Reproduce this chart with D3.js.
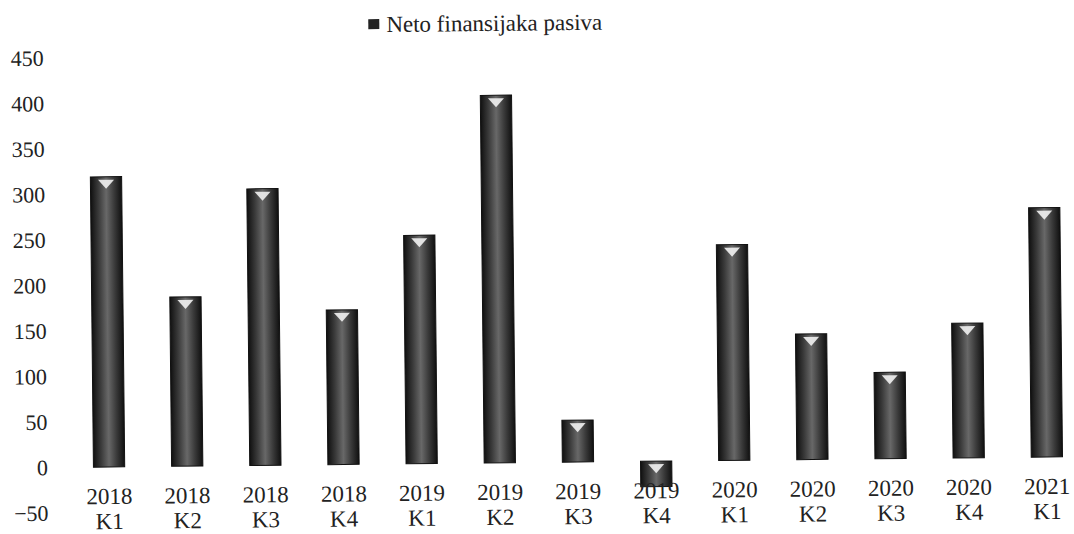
<!DOCTYPE html>
<html>
<head>
<meta charset="utf-8">
<script src="https://cdn.jsdelivr.net/npm/d3@7"></script>
<style>
  body { margin: 0; background: #fff; }
  text { font-family: "Liberation Serif", "DejaVu Serif", "Times New Roman", serif; fill: #222; }
</style>
</head>
<body>
<div id="chart"></div>
<script>
// data
var years = ["2018","2018","2018","2018","2019","2019","2019","2019","2020","2020","2020","2020","2021"];
var quarters = ["K1","K2","K3","K4","K1","K2","K3","K4","K1","K2","K3","K4","K1"];
var values = [319, 186, 304, 170, 251, 404, 46, -28, 237, 138, 95, 148, 274];
var yTicks = [-50, 0, 50, 100, 150, 200, 250, 300, 350, 400, 450];
var seriesName = "Neto finansijaka pasiva";

var width = 1074, height = 534;
var serif = "'Liberation Serif', 'DejaVu Serif', 'Times New Roman', serif";

var svg = d3.select("#chart")
  .append("svg")
  .attr("width", width)
  .attr("height", height);

// bar fill: dark edges, lighter middle
var grad = svg.append("defs").append("linearGradient")
  .attr("id", "barGrad")
  .attr("x1", "0%").attr("x2", "100%").attr("y1", "0%").attr("y2", "0%");
grad.selectAll("stop")
  .data([["0%", "#101010"], ["25%", "#3a3a3a"], ["50%", "#686868"], ["75%", "#3a3a3a"], ["100%", "#101010"]])
  .join("stop")
  .attr("offset", d => d[0])
  .attr("stop-color", d => d[1]);

// the scan is tilted a little, so the whole chart is too
var g = svg.append("g")
  .attr("transform", "rotate(-0.61,109,467)");

var keys = values.map((d, i) => i);

var x = d3.scaleBand()
  .domain(keys)
  .range([70, 1086])
  .paddingInner(0.6)
  .paddingOuter(0.3);

var y = d3.scaleLinear()
  .domain([-50, 450])
  .range([512.5, 57.5]);

// y axis labels only
var yAxis = g.append("g")
  .attr("transform", "translate(48,0)")
  .call(d3.axisLeft(y).tickValues(yTicks).tickSize(0).tickPadding(0));
yAxis.select(".domain").remove();
yAxis.selectAll("text")
  .style("font-family", serif)
  .style("font-size", "22px")
  .attr("fill", "#222");

// bars
g.selectAll(".bar")
  .data(values)
  .join("rect")
  .attr("class", "bar")
  .attr("x", (d, i) => x(i))
  .attr("width", x.bandwidth())
  .attr("y", d => y(Math.max(0, d)))
  .attr("height", d => Math.abs(y(d) - y(0)))
  .attr("fill", "url(#barGrad)")
  .attr("stroke", "#111")
  .attr("stroke-width", 1);

// little light wedge at each bar top
g.selectAll(".wedge")
  .data(values)
  .join("path")
  .attr("class", "wedge")
  .attr("d", function(d, i) {
    var cx = x(i) + x.bandwidth() / 2;
    var top = y(Math.max(0, d));
    return "M" + (cx - 8) + "," + (top + 3) + " L" + (cx + 8) + "," + (top + 3) + " L" + cx + "," + (top + 12) + " Z";
  })
  .attr("fill", "#f2f2f2")
  .attr("opacity", 0.9);

// x axis labels, two lines
var xAxis = g.append("g")
  .attr("transform", "translate(0," + y(0) + ")")
  .call(d3.axisBottom(x).tickSize(0).tickFormat(i => years[i]));
xAxis.select(".domain").remove();
xAxis.selectAll("text")
  .style("font-family", serif)
  .style("font-size", "23px")
  .attr("fill", "#222")
  .attr("y", 37)
  .attr("dy", 0)
  .each(function(i) {
    d3.select(this).append("tspan")
      .attr("x", 0)
      .attr("dy", 25)
      .text(quarters[i]);
  });

// legend
var legend = g.append("g").attr("transform", "translate(373,22)");
legend.append("rect")
  .attr("width", 11).attr("height", 10)
  .attr("fill", "#222");
legend.append("text")
  .attr("x", 18)
  .attr("y", 13)
  .style("font-family", serif)
  .style("font-size", "23px")
  .text(seriesName);
</script>
</body>
</html>
